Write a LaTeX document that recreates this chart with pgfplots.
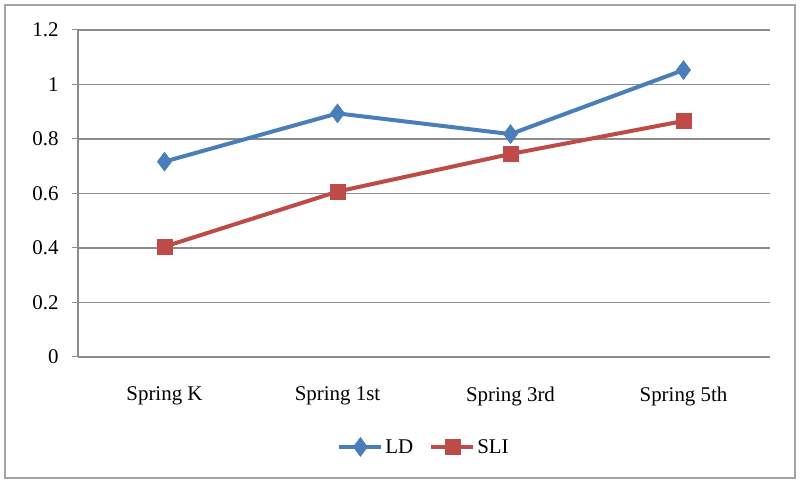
\documentclass[border=0pt]{standalone}
\usepackage{pgfplots}
\pgfplotsset{compat=1.18}
\usepackage{fontspec}
\setmainfont{Liberation Serif}
\definecolor{ldblue}{HTML}{4A7EBB}
\definecolor{slired}{HTML}{BE4B48}
\definecolor{gridgray}{HTML}{8C8C8C}
\begin{document}
\begin{tikzpicture}[x=1bp,y=1bp]
\useasboundingbox (0,0) rectangle (800,484);
\draw[gridgray!80, line width=1.5bp] (5,6) rectangle (795,479);
\begin{axis}[
  at={(78bp,127bp)}, anchor=south west,
  scale only axis, width=692bp, height=327bp,
  xmin=-0.5, xmax=3.5, ymin=0, ymax=1.2,
  xtick={0,1,2,3},
  xticklabels={Spring K, Spring 1st, Spring 3rd, Spring 5th},
  extra x ticks={-0.5,0.5,1.5,2.5,3.5},
  extra x tick labels={},
  extra x tick style={major tick length=5bp, tick align=outside, tick style={gridgray, line width=1bp}},
  ytick={0,0.2,0.4,0.6,0.8,1,1.2},
  yticklabels={0,0.2,0.4,0.6,0.8,1,1.2},
  axis x line*=bottom, axis y line*=left,
  axis line style={gridgray, line width=1.2bp, -},
  x tick style={draw=none},
  y tick style={gridgray, line width=1bp},
  major tick length=6bp, tick align=outside,
  ymajorgrids, major grid style={gridgray, line width=1.2bp},
  yticklabel style={font=\fontsize{21}{21}\selectfont, xshift=-10bp},
  xticklabel style={font=\fontsize{21}{21}\selectfont, yshift=-20bp},
  legend style={at={(0.5,-0.275)}, anchor=center, draw=none, fill=none,
    legend columns=2, font=\fontsize{21}{21}\selectfont,
    /tikz/every even column/.append style={column sep=14bp}},
  legend image code/.code={
    \draw[#1, mark=none] (0bp,0bp) -- (42bp,0bp);
    \draw[#1, only marks] plot coordinates {(21bp,0bp)};
  },
  clip=false,
]
\addplot[ldblue, line width=4bp, mark=diamond*, mark size=9.5bp, mark options={solid, line width=0.5bp}]
  coordinates {(0,0.717) (1,0.894) (2,0.818) (3,1.053)};
\addlegendentry{LD}
\addplot[slired, line width=4bp, mark=square*, mark size=7.5bp, mark options={solid, line width=0.5bp}]
  coordinates {(0,0.405) (1,0.607) (2,0.745) (3,0.866)};
\addlegendentry{SLI}
\end{axis}
\end{tikzpicture}
\end{document}
